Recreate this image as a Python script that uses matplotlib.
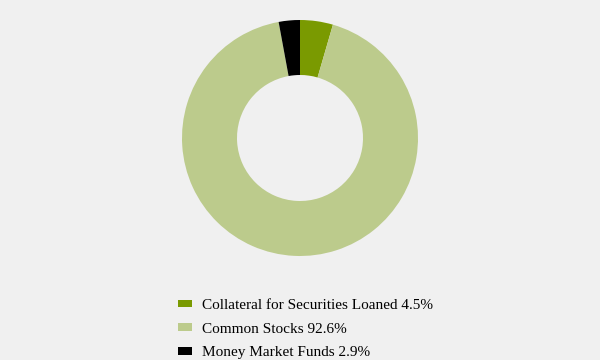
import matplotlib
matplotlib.use("Agg")
import matplotlib.pyplot as plt
from matplotlib.patches import Patch

# data
labels = ["Collateral for Securities Loaned", "Common Stocks", "Money Market Funds"]
values = [4.5, 92.6, 2.9]
colors = ["#7a9a01", "#bccb8c", "#000000"]

BG = "#f0f0f0"

fig = plt.figure(figsize=(6, 3.6), dpi=100, facecolor=BG)
ax = fig.add_axes([182 / 600, 104 / 360, 236 / 600, 236 / 360])
ax.set_facecolor(BG)

ax.pie(values, colors=colors, startangle=90, counterclock=False,
       radius=1.0, wedgeprops=dict(width=55 / 118, linewidth=0))
ax.set_xlim(-1, 1)
ax.set_ylim(-1, 1)
ax.set_aspect("equal")
ax.axis("off")

handles = [Patch(facecolor=c, edgecolor="none") for c in colors]
leg_labels = [f"{l} {v}%" for l, v in zip(labels, values)]
fig.legend(handles, leg_labels, loc="upper left",
           bbox_to_anchor=(178 / 600, 1 - 299 / 360),
           frameon=False, borderpad=0, borderaxespad=0,
           handlelength=0.9, handleheight=0.38, handletextpad=0.65,
           labelspacing=0.7,
           prop={"family": "Liberation Serif", "size": 11})

fig.savefig("out.png", dpi=100, facecolor=BG)
